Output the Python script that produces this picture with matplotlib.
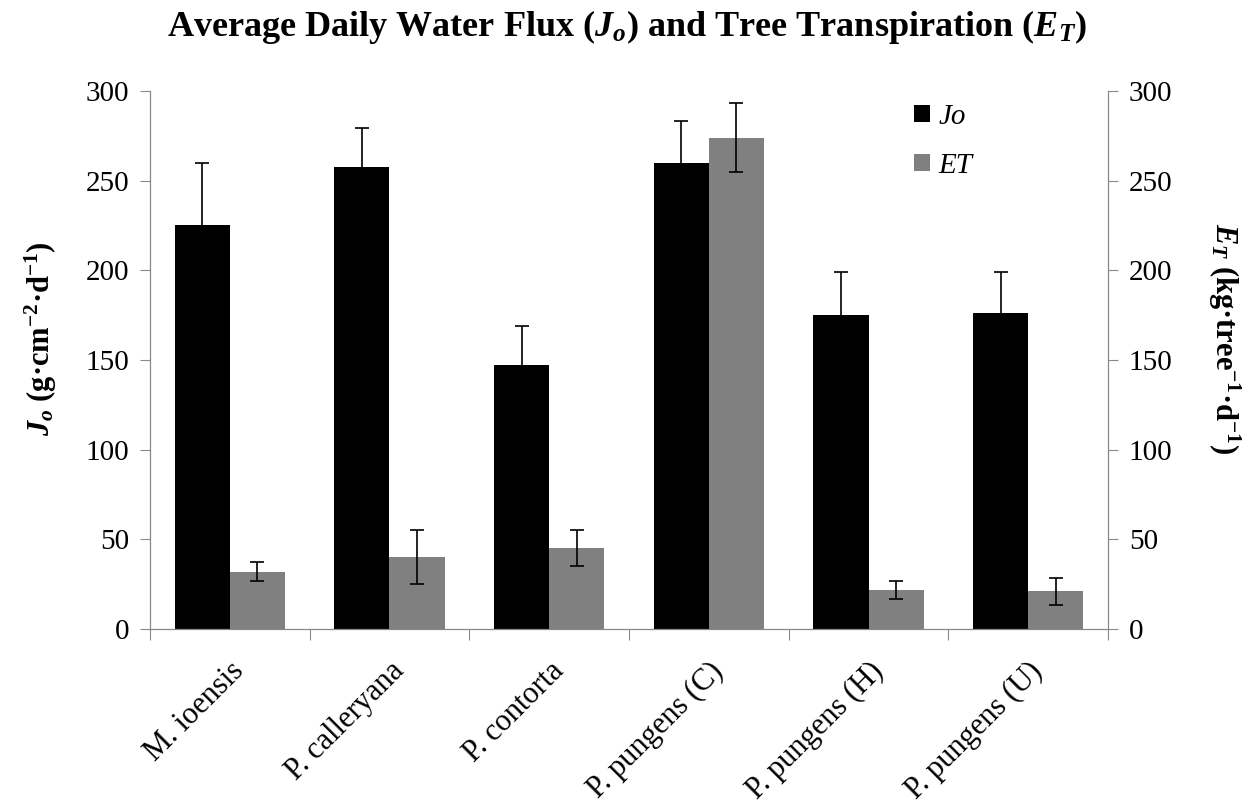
import matplotlib
matplotlib.use('Agg')
import matplotlib.pyplot as plt
import numpy as np

plt.rcParams['font.family'] = ['Liberation Serif', 'DejaVu Serif']
plt.rcParams['mathtext.fontset'] = 'custom'
plt.rcParams['mathtext.rm'] = 'Liberation Serif'
plt.rcParams['mathtext.it'] = 'Liberation Serif:italic'
plt.rcParams['mathtext.bf'] = 'Liberation Serif:bold'
plt.rcParams['mathtext.bfit'] = 'Liberation Serif:bold:italic'

species = ['M. ioensis', 'P. calleryana', 'P. contorta',
           'P. pungens (C)', 'P. pungens (H)', 'P. pungens (U)']
jo = [225, 257.5, 147, 260, 175, 176]
jo_err = [35, 22, 22, 23, 24, 23]
et = [32, 40, 45, 274, 21.5, 21]
et_err = [5.5, 15, 10, 19, 5, 7.5]

fig = plt.figure(figsize=(12.53, 8.08), dpi=100)
ax = fig.add_axes([0.1197, 0.2215, 0.7646, 0.666])
ax2 = ax.twinx()

x = np.arange(len(species))
w = 0.345
ax.bar(x - w/2, jo, w, color='black', yerr=jo_err, capsize=5,
       error_kw=dict(ecolor='black', elinewidth=1.2, capthick=1.2), label='Jo', zorder=2)
ax2.bar(x + w/2, et, w, color='#808080', yerr=et_err, capsize=5,
        error_kw=dict(ecolor='black', elinewidth=1.2, capthick=1.2), label='ET', zorder=2)

for a in (ax, ax2):
    a.set_ylim(0, 300)
    a.set_yticks(range(0, 301, 50))
    a.set_xlim(-0.5, len(species) - 0.5)
    a.spines['top'].set_visible(False)
    for s in ('left', 'right', 'bottom'):
        a.spines[s].set_color('#888888')
    a.tick_params(axis='y', labelsize=21, length=7, color='#888888', pad=8)

# group boundaries get the tick marks, names sit on the group centres
ax.set_xticks(np.arange(len(species) + 1) - 0.5)
ax.set_xticklabels([])
ax.set_xticks(x, minor=True)
ax.set_xticklabels(species, minor=True, rotation=45, ha='right', rotation_mode='anchor',
                   fontsize=22)
ax.tick_params(axis='x', which='major', length=8, color='#888888', direction='out')
ax.tick_params(axis='x', which='minor', length=0, pad=20)
ax2.tick_params(axis='x', length=0)

ax.set_ylabel(r'$\mathbfit{J}_{\mathbfit{o}}$ (g·cm$^{\mathbf{-2}}$·d$^{\mathbf{-1}}$)',
              fontsize=22, fontweight='bold')
ax.yaxis.set_label_coords(-0.095, 0.54)
ax2.set_ylabel(r'$\mathbfit{E}_{\mathbfit{T}}$ (kg·tree$^{\mathbf{-1}}$·d$^{\mathbf{-1}}$)',
               fontsize=22, fontweight='bold', rotation=270)
ax2.yaxis.set_label_coords(1.14, 0.54)

fig.suptitle(r'Average Daily Water Flux ($\mathbfit{J}_{\mathbfit{o}}$) and Tree Transpiration ($\mathbfit{E}_{\mathbfit{T}}$)',
             fontsize=26, fontweight='bold', y=0.99)

h1, l1 = ax.get_legend_handles_labels()
h2, l2 = ax2.get_legend_handles_labels()
ax2.legend(h1 + h2, l1 + l2, loc='upper left', bbox_to_anchor=(0.77, 1.025),
           frameon=False, prop={'style': 'italic', 'size': 21},
           handlelength=0.55, handleheight=0.55, handletextpad=0.3, labelspacing=0.8)

fig.savefig('out.png', dpi=100)
